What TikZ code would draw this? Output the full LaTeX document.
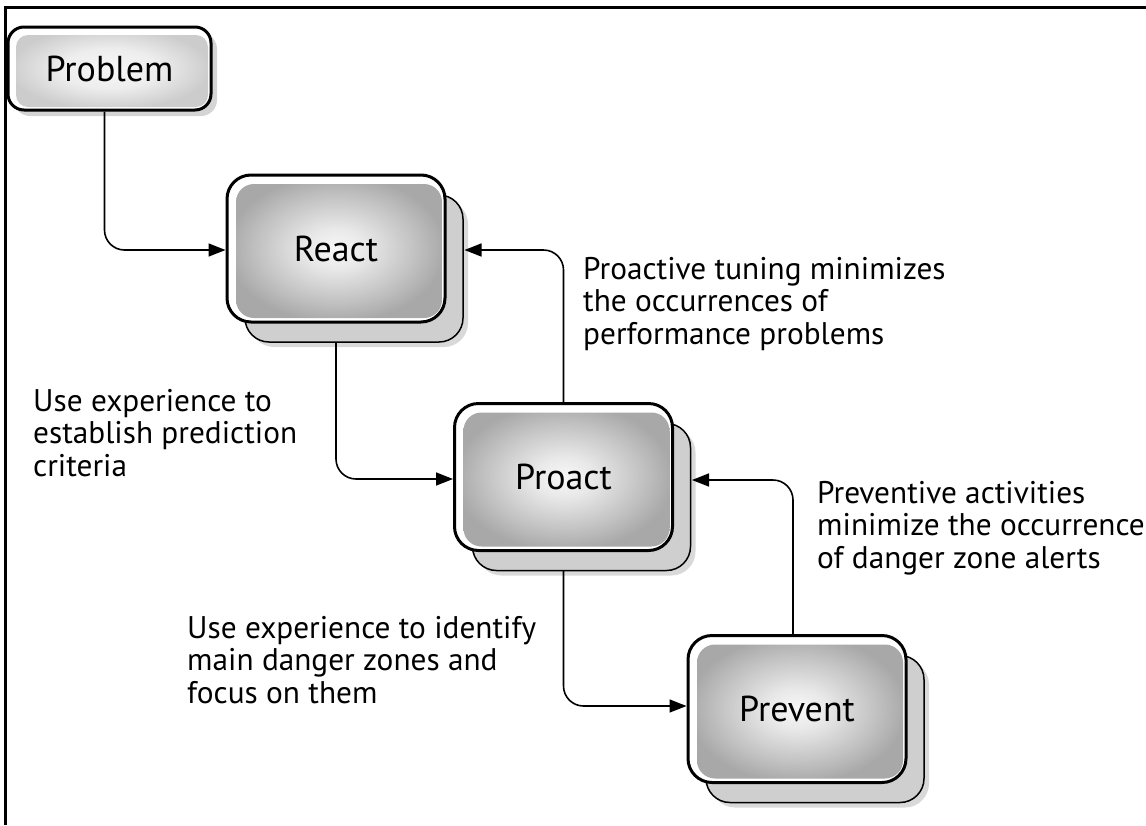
\documentclass[tikz,border=0pt]{standalone}
\usepackage{fontspec}
\setmainfont{PT Sans}
\usetikzlibrary{arrows.meta,shadows}

%% - Shadings for the box faces
%% - --------------------------------------
\pgfdeclareradialshading{pillow}{\pgfpoint{0bp}{0bp}}{%
  color(0bp)=(black!3); color(7bp)=(black!9); color(18bp)=(black!24);
  color(25bp)=(black!34); color(50bp)=(black!34)}
\pgfdeclareradialshading{softpillow}{\pgfpoint{0bp}{0bp}}{%
  color(0bp)=(black!3); color(12bp)=(black!7); color(25bp)=(black!20);
  color(50bp)=(black!20)}

\tikzset{
  stage/.style={rectangle,rounded corners=24pt,draw=black,line width=3pt,fill=white,
    minimum width=218pt,minimum height=147pt,inner sep=0pt,
    font=\fontsize{36}{40}\selectfont,
    drop shadow={shadow xshift=23pt,shadow yshift=-25pt,fill=black!15,opacity=1},
    copy shadow={shadow xshift=18pt,shadow yshift=-20pt,fill=black!19,draw=black,line width=1.5pt},
    path picture={\shade[shading=pillow,rounded corners=18pt]
      ([shift={(9pt,-9pt)}]path picture bounding box.north west) rectangle
      ([shift={(-3pt,4pt)}]path picture bounding box.south east);}},
  startbox/.style={rectangle,rounded corners=16pt,draw=black,line width=3pt,fill=white,
    minimum width=203pt,minimum height=83pt,inner sep=0pt,
    font=\fontsize{36}{40}\selectfont,
    drop shadow={shadow xshift=6pt,shadow yshift=-6pt,fill=black!17,opacity=1},
    path picture={\shade[shading=softpillow,rounded corners=12pt]
      ([shift={(8pt,-8pt)}]path picture bounding box.north west) rectangle
      ([shift={(-3pt,3pt)}]path picture bounding box.south east);}},
  note/.style={anchor=north west,inner sep=0pt,align=left,
    font=\fontsize{31.3}{32.5}\selectfont},
  flow/.style={line width=1.6pt,rounded corners=20pt,-{Triangle[length=17pt,width=13pt]}},
  frame/.style={line width=3pt}
}

\begin{document}
\begin{tikzpicture}[x=1pt,y=-1pt]

\useasboundingbox (0,0) rectangle (1146,825);

%% - Draw frame
%% - --------------------------------------
\draw[frame] (5,825) -- (5,7) -- (1146,7);

%% - Draw boxes
%% - --------------------------------------
\node[startbox] (problem) at (109.5,68.5) {Problem};
\node[stage] (react) at (336,248.5) {React};
\node[stage] (proact) at (563.5,477) {Proact};
\node[stage] (prevent) at (797,709) {Prevent};

%% - Draw arrows
%% - --------------------------------------
\draw[flow] ([xshift=-5pt]problem.south) |- ([yshift=-1.5pt]react.west);
\draw[flow] ([yshift=-19pt]react.south) |- ([yshift=-2pt]proact.west);
\draw[flow] (proact.north) |- ([xshift=18pt,yshift=-1.5pt]react.east);
\draw[flow] ([yshift=-19pt]proact.south) |- ([yshift=3pt]prevent.west);
\draw[flow] ([xshift=-4pt]prevent.north) |- ([xshift=18pt,yshift=-3pt]proact.east);

%% - Draw Text
%% - --------------------------------------
\node[note] (predictnote) at (33,389) {Use experience to\\establish prediction\\criteria};
\node[note] (tuningnote) at (583,257) {Proactive tuning minimizes\\the occurrences of\\performance problems};
\node[note] (zonenote) at (187,616) {Use experience to identify\\main danger zones and\\focus on them};
\node[note] (alertnote) at (817,481) {Preventive activities\\minimize the occurrence\\of danger zone alerts};

\end{tikzpicture}
\end{document}
